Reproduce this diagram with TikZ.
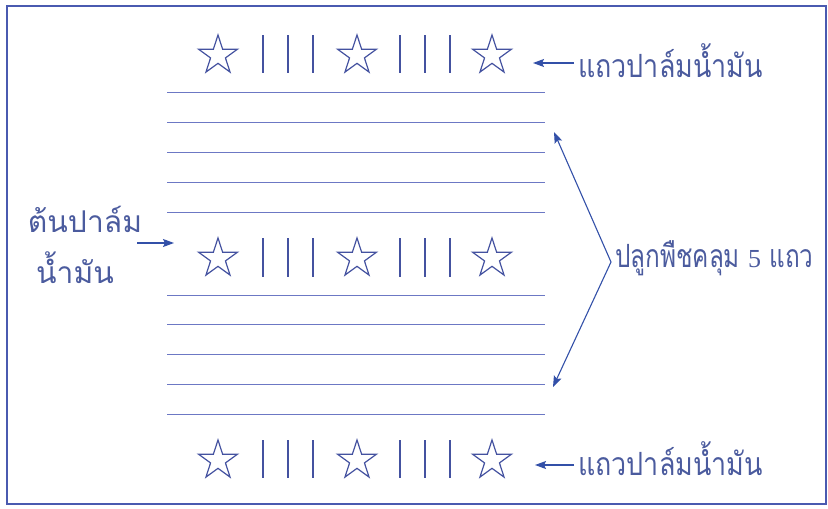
\documentclass[tikz,border=0pt]{standalone}
\usepackage{fontspec}
\newfontfamily\thaifont[Script=Thai]{Loma}
\newfontfamily\thaicond[Script=Thai,FakeStretch=0.84]{Loma}
\newfontfamily\thaicondb[Script=Thai,FakeStretch=0.76]{Loma}
\newfontfamily\numfont{Liberation Serif}
\usetikzlibrary{shapes.geometric,arrows.meta}
\definecolor{frameblue}{HTML}{4A5AB0}
\definecolor{inkblue}{HTML}{4452A0}
\definecolor{lineblue}{HTML}{6C78C4}
\definecolor{txtblue}{HTML}{4B5B9E}
\definecolor{arrblue}{HTML}{3350A8}
\tikzset{
  palm/.style={star, star points=5, star point ratio=2.618, minimum size=41pt, inner sep=0pt, draw=inkblue, line width=1.2pt},
  bar/.style={draw=inkblue, line width=1.4pt},
  cover/.style={draw=lineblue, line width=1pt},
  lbl/.style={inner sep=0pt, text=txtblue, font=\thaicond\fontsize{32}{34}\selectfont},
  lbll/.style={inner sep=0pt, text=txtblue, font=\thaifont\fontsize{30}{34}\selectfont},
  lblr/.style={inner sep=0pt, text=txtblue, font=\thaicondb\fontsize{32}{34}\selectfont},
  pointer/.style={draw=arrblue, line width=1.1pt, -{Stealth[length=11pt,width=8pt,inset=2pt]}}
}
\begin{document}
\begin{tikzpicture}[x=1pt,y=-1pt]
\useasboundingbox (0,0) rectangle (828,509);
\draw[frameblue, line width=2pt] (6.5,5.5) rectangle (826,504);
% star rows
\foreach \r/\y/\ya/\yb in {t/55.5/35/73, m/258.5/238/277, b/460.5/440/478}{
  \node[palm] (s1\r) at (218,\y) {};
  \node[palm] (s2\r) at (357,\y) {};
  \node[palm] (s3\r) at (492,\y) {};
  \foreach \x in {263,288,313,400,425,450}{
    \draw[bar] (\x,\ya) -- (\x,\yb);
  }
}
% cover crop lines
\foreach \y in {92,122,152,182,212,295,324,354,384,414}{
  \draw[cover] (167,\y) -- (545,\y);
}
% labels
\node[lbl, anchor=base west] (toplbl) at (578,77) {แถวปาล์มน้ำมัน};
\node[lbl, anchor=base west] (botlbl) at (578,475) {แถวปาล์มน้ำมัน};
\node[lblr, anchor=base west] (covlbl) at (615,267) {ปลูกพืชคลุม {\numfont\fontsize{26}{30}\selectfont 5} แถว};
\node[lbll, anchor=base] (left1) at (85,232) {ต้นปาล์ม};
\node[lbll, anchor=base] (left2) at (75,283) {น้ำมัน};
% arrow coordinates
\coordinate (ta) at (533,63);
\coordinate (tb) at (574,63);
\coordinate (ba) at (535,465);
\coordinate (bb) at (574,465);
\coordinate (la) at (137,243);
\coordinate (lb) at (174,243);
\coordinate (v) at (611,262);
\coordinate (ct) at (554,132);
\coordinate (cb) at (553,387);
\draw[pointer] (tb) -- (ta);
\draw[pointer] (bb) -- (ba);
\draw[pointer] (la) -- (lb);
\draw[pointer] (v) -- (ct);
\draw[pointer] (v) -- (cb);
\end{tikzpicture}
\end{document}
